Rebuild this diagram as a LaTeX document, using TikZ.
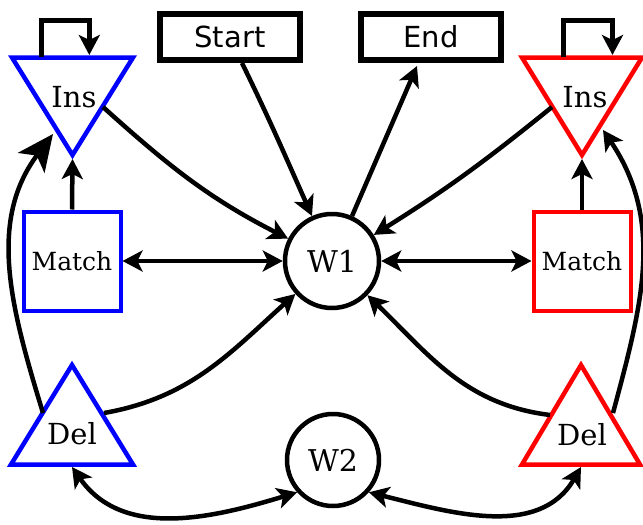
\documentclass[tikz,border=0pt]{standalone}
\usepackage{fontspec}
\setmainfont{DejaVu Serif}
\newfontfamily\dvsans{DejaVu Sans}
\usetikzlibrary{arrows.meta}
\begin{document}
\begin{tikzpicture}[x=1pt,y=1pt,
  conn/.style={line width=4.5pt},
  tip/.style={-{Stealth[length=20pt,width=21pt,inset=5pt]}},
  bigtip/.style={-{Stealth[length=36pt,width=33pt,inset=9pt]}},
  both/.style={{Stealth[length=20pt,width=21pt,inset=5pt]}-{Stealth[length=20pt,width=21pt,inset=5pt]}},
  lab/.style={inner sep=0pt,font=\fontsize{29}{32}\selectfont},
  termbox/.style={draw,line width=6pt,minimum width=140pt,minimum height=46pt,inner sep=0pt,font=\dvsans\fontsize{29}{32}\selectfont},
  matchbox/.style={draw,line width=4pt,minimum width=97pt,minimum height=99pt,inner sep=0pt,font=\fontsize{25}{28}\selectfont},
  state/.style={draw,circle,line width=4.5pt,inner sep=0pt,font=\fontsize{30}{32}\selectfont},
  tri/.style={line width=4.5pt,miter limit=10}
]
\useasboundingbox (0,-525) rectangle (643,0);

% terminal boxes
\node[termbox] (start) at (230,-37) {Start};
\node[termbox] (end) at (431,-37) {End};

% states
\node[state,minimum size=94pt] (w1) at (332,-261) {W1};
\node[state,minimum size=92pt] (w2) at (333,-460) {W2};
\node[matchbox,draw=blue] (mL) at (72,-261) {Match};
\node[matchbox,draw=red] (mR) at (582,-261) {Match};

% triangles
\draw[tri,draw=blue] (12,-57.5) -- (133,-57.5) -- (72.5,-155) -- cycle;
\draw[tri,draw=red] (522,-57.5) -- (642,-57.5) -- (582,-155) -- cycle;
\draw[tri,draw=blue] (72,-365) -- (133,-464.5) -- (11,-464.5) -- cycle;
\draw[tri,draw=red] (581,-365) -- (640,-464.5) -- (522,-464.5) -- cycle;
\node[lab] (insL) at (74,-97) {Ins};
\node[lab] (insR) at (585,-97.5) {Ins};
\node[lab] (delL) at (72,-434) {Del};
\node[lab] (delR) at (582,-435) {Del};

% anchor points on triangles
\coordinate (insLb) at (72.5,-159);
\coordinate (insLr) at (103,-107);
\coordinate (insLl) at (53,-134);
\coordinate (lpLa) at (41,-57);
\coordinate (lpLb) at (89.3,-55);
\coordinate (insRb) at (582,-159);
\coordinate (insRl) at (552,-107);
\coordinate (insRr) at (603,-130);
\coordinate (lpRa) at (563.3,-57);
\coordinate (lpRb) at (612.5,-55);
\coordinate (delLr) at (104,-413);
\coordinate (delLl) at (43,-413);
\coordinate (delLb) at (72,-467);
\coordinate (delRl) at (550,-415);
\coordinate (delRr) at (613,-413);
\coordinate (delRb) at (581,-467);

% self loops
\draw[conn,line width=5pt,tip] (lpLa) -- ++(0,37) -| (lpLb);
\draw[conn,line width=5pt,tip] (lpRa) -- ++(0,37) -| (lpRb);

% match -> ins
\draw[conn,tip] (mL.north) -- (insLb);
\draw[conn,tip] (mR.north) -- (insRb);

% match <-> W1
\draw[conn,both] (mL.east) -- (w1.west);
\draw[conn,both] (w1.east) -- (mR.west);

% to/from W1
\draw[conn,tip] (insLr) to[out=-42,in=153] (w1);
\draw[conn,tip] ([xshift=12pt]start.south) to[out=-64,in=114] (w1);
\draw[conn,tip] (w1.66) -- ([xshift=-14pt,yshift=-3pt]end.south);
\draw[conn,tip] (insRl) to[out=219,in=32] (w1);
\draw[conn,tip] (delLr) to[out=10,in=222] (w1);
\draw[conn,tip] (delRl) to[out=173,in=-44] (w1);

% del -> ins outer curves
\draw[conn,bigtip] (delLl) to[out=107,in=233] (insLl);
\draw[conn,tip] (delRr) to[out=75,in=-56] (insRr);

% del <-> W2
\draw[conn,both] (delLb) to[out=-55,in=197] (w2.222);
\draw[conn,both] (w2.-42) to[out=-14,in=-120] (delRb);
\end{tikzpicture}
\end{document}
